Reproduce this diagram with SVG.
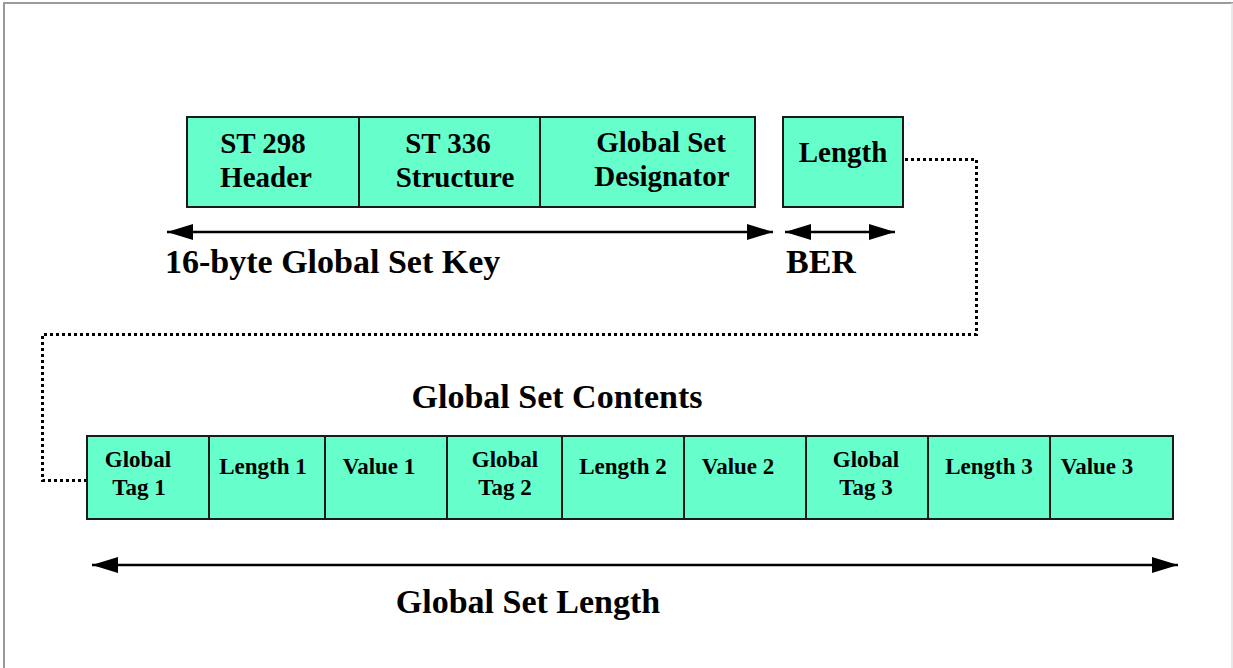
<svg xmlns="http://www.w3.org/2000/svg" width="1233" height="668" viewBox="0 0 1233 668">
<defs>
<style>
.box{fill:#66ffcc;stroke:#1a1a1a;stroke-width:2}
.t{font-family:"Liberation Serif","Times New Roman",serif;font-weight:bold;fill:#000;text-anchor:middle}
.big{font-size:29px}
.sm{font-size:23px}
.lbl{font-size:34px}
.arr{stroke:#000;stroke-width:2.5;fill:none}
.dot{stroke:#000;stroke-width:3;fill:none;stroke-dasharray:3 3}
</style>
<marker id="ah" viewBox="0 0 26 16" refX="26" refY="8" markerWidth="26" markerHeight="16" markerUnits="userSpaceOnUse" orient="auto-start-reverse">
<path d="M0,0 L26,8 L0,16 Z" fill="#000"/>
</marker>
</defs>
<rect width="1233" height="668" fill="#fff"/>
<line x1="3" y1="3" x2="1233" y2="3" stroke="#9a9a9a" stroke-width="2"/>
<line x1="4" y1="3" x2="4" y2="668" stroke="#9a9a9a" stroke-width="2"/>
<line x1="1232" y1="3" x2="1232" y2="668" stroke="#e0e0e0" stroke-width="1.5"/>

<g id="connectors">
<line class="arr" x1="167" y1="232" x2="773" y2="232" marker-start="url(#ah)" marker-end="url(#ah)"/>
<line class="arr" x1="785" y1="232" x2="895" y2="232" marker-start="url(#ah)" marker-end="url(#ah)"/>
<line class="arr" x1="92" y1="565" x2="1178" y2="565" marker-start="url(#ah)" marker-end="url(#ah)"/>
<polyline class="dot" points="905,159.5 976.5,159.5 976.5,334.5 42.5,334.5 42.5,480.5 87,480.5"/>
</g>

<g id="st298"><rect class="box" x="187" y="117" width="172" height="90"/>
<text class="t big" x="263" y="153">ST 298</text><text class="t big" x="266" y="187">Header</text></g>
<g id="st336"><rect class="box" x="359" y="117" width="181" height="90"/>
<text class="t big" x="448" y="153">ST 336</text><text class="t big" x="455" y="187">Structure</text></g>
<g id="gsd"><rect class="box" x="540" y="117" width="215" height="90"/>
<text class="t big" x="661" y="152">Global Set</text><text class="t big" x="662" y="186">Designator</text></g>
<g id="length"><rect class="box" x="783" y="117" width="120" height="90"/>
<text class="t big" x="843" y="162">Length</text></g>

<g id="key-label"><text class="t lbl" x="165" y="273" style="text-anchor:start">16-byte Global Set Key</text></g>
<g id="ber-label"><text class="t lbl" x="786" y="273" style="text-anchor:start">BER</text></g>
<g id="contents-label"><text class="t lbl" x="557" y="408">Global Set Contents</text></g>
<g id="gsl-label"><text class="t lbl" x="528" y="613">Global Set Length</text></g>

<g id="tag1"><rect class="box" x="87" y="436" width="122" height="83"/>
<text class="t sm" x="138" y="467">Global</text><text class="t sm" x="139" y="495">Tag 1</text></g>
<g id="len1"><rect class="box" x="209" y="436" width="116" height="83"/>
<text class="t sm" x="263" y="474">Length 1</text></g>
<g id="val1"><rect class="box" x="325" y="436" width="122" height="83"/>
<text class="t sm" x="379" y="474">Value 1</text></g>
<g id="tag2"><rect class="box" x="447" y="436" width="115" height="83"/>
<text class="t sm" x="505" y="467">Global</text><text class="t sm" x="505" y="495">Tag 2</text></g>
<g id="len2"><rect class="box" x="562" y="436" width="122" height="83"/>
<text class="t sm" x="623" y="474">Length 2</text></g>
<g id="val2"><rect class="box" x="684" y="436" width="122" height="83"/>
<text class="t sm" x="738" y="474">Value 2</text></g>
<g id="tag3"><rect class="box" x="806" y="436" width="122" height="83"/>
<text class="t sm" x="866" y="467">Global</text><text class="t sm" x="866" y="495">Tag 3</text></g>
<g id="len3"><rect class="box" x="928" y="436" width="122" height="83"/>
<text class="t sm" x="989" y="474">Length 3</text></g>
<g id="val3"><rect class="box" x="1050" y="436" width="123" height="83"/>
<text class="t sm" x="1097" y="474">Value 3</text></g>
</svg>
